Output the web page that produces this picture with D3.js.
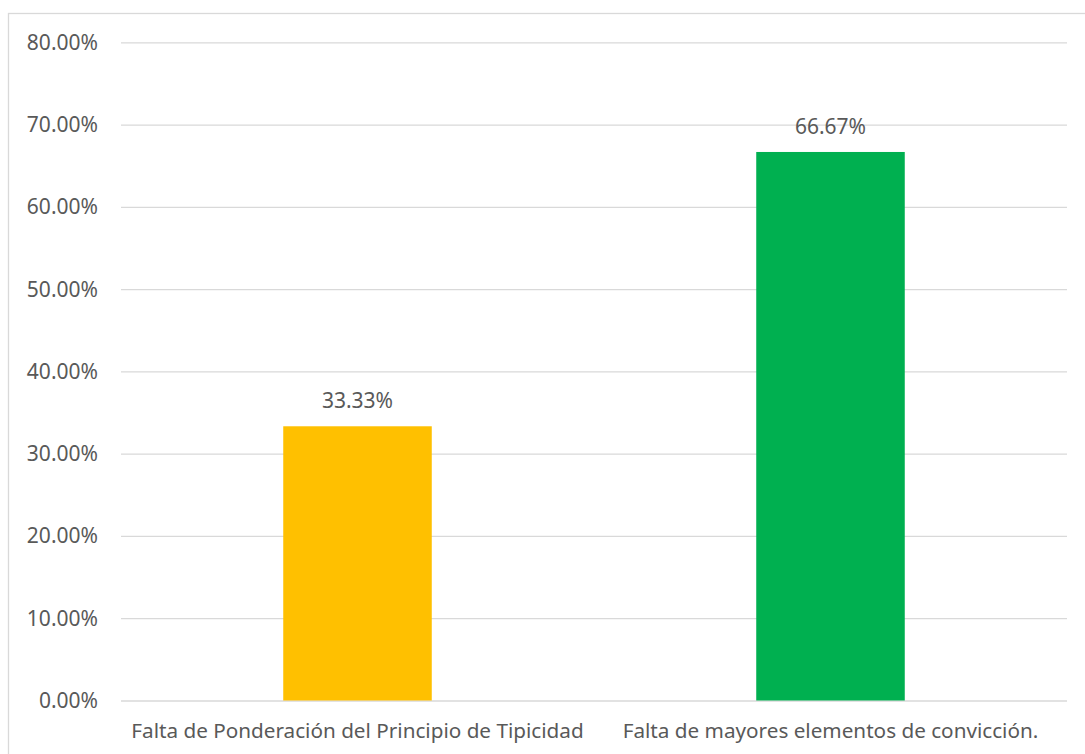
<!DOCTYPE html>
<html>
<head>
<meta charset="utf-8">
<script src="https://cdn.jsdelivr.net/npm/d3@7"></script>
<style>
  body { margin: 0; background: #fff; }
  svg text { font-family: "Noto Sans", "Open Sans", sans-serif; fill: #595959; }
</style>
</head>
<body>
<svg id="chart" width="1085" height="754"></svg>
<script>
// chart values
const categories = ['Falta de Ponderación del Principio de Tipicidad', 'Falta de mayores elementos de convicción.'];
const values = [0.3333, 0.6667];
const barColors = ['#FFC000', '#00B050'];
const yTicks = [0, 0.1, 0.2, 0.3, 0.4, 0.5, 0.6, 0.7, 0.8];

const svg = d3.select('#chart');
const plotLeft = 121, plotRight = 1067, plotTop = 42.3, plotBottom = 700.5;

// outer frame
svg.append('rect')
	.attr('x', 8.5).attr('y', 13.5)
	.attr('width', 1090).attr('height', 760)
	.style('fill', 'none')
	.style('stroke', '#d9d9d9')
	.style('stroke-width', 1.3);

const x = d3.scaleBand()
	.domain(categories)
	.range([plotLeft, plotRight])
	.paddingInner(0.686)
	.paddingOuter(0.343);

const y = d3.scaleLinear()
	.domain([0, 0.8])
	.range([plotBottom, plotTop]);

const fmt = d3.format('.2%');

// gridlines + tick labels
const yAxis = svg.append('g')
	.attr('class', 'y-axis')
	.attr('transform', 'translate(' + plotLeft + ',0)')
	.call(d3.axisLeft(y).tickValues(yTicks).tickFormat(fmt).tickSize(-(plotRight - plotLeft)).tickPadding(23));

yAxis.select('.domain').remove();
yAxis.selectAll('.tick line')
	.style('stroke', '#d9d9d9')
	.style('stroke-width', 1.3);
yAxis.selectAll('.tick text')
	.style('font-size', '21px')
	.style('fill', '#595959')
	.attr('dy', '0.33em');

// bars
svg.append('g').selectAll('rect')
	.data(values)
	.enter().append('rect')
	.attr('x', (d, i) => x(categories[i]))
	.attr('y', (d) => y(d))
	.attr('width', x.bandwidth())
	.attr('height', (d) => plotBottom - y(d))
	.style('fill', (d, i) => barColors[i]);

// value labels
svg.append('g').selectAll('text')
	.data(values)
	.enter().append('text')
	.attr('x', (d, i) => x(categories[i]) + x.bandwidth() / 2)
	.attr('y', (d) => y(d) - 18)
	.attr('text-anchor', 'middle')
	.style('font-size', '21px')
	.text((d) => fmt(d));

// category labels
svg.append('g').selectAll('text')
	.data(categories)
	.enter().append('text')
	.attr('x', (d) => x(d) + x.bandwidth() / 2)
	.attr('y', 738.3)
	.attr('text-anchor', 'middle')
	.style('font-size', '20.7px')
	.text((d) => d);
</script>
</body>
</html>
